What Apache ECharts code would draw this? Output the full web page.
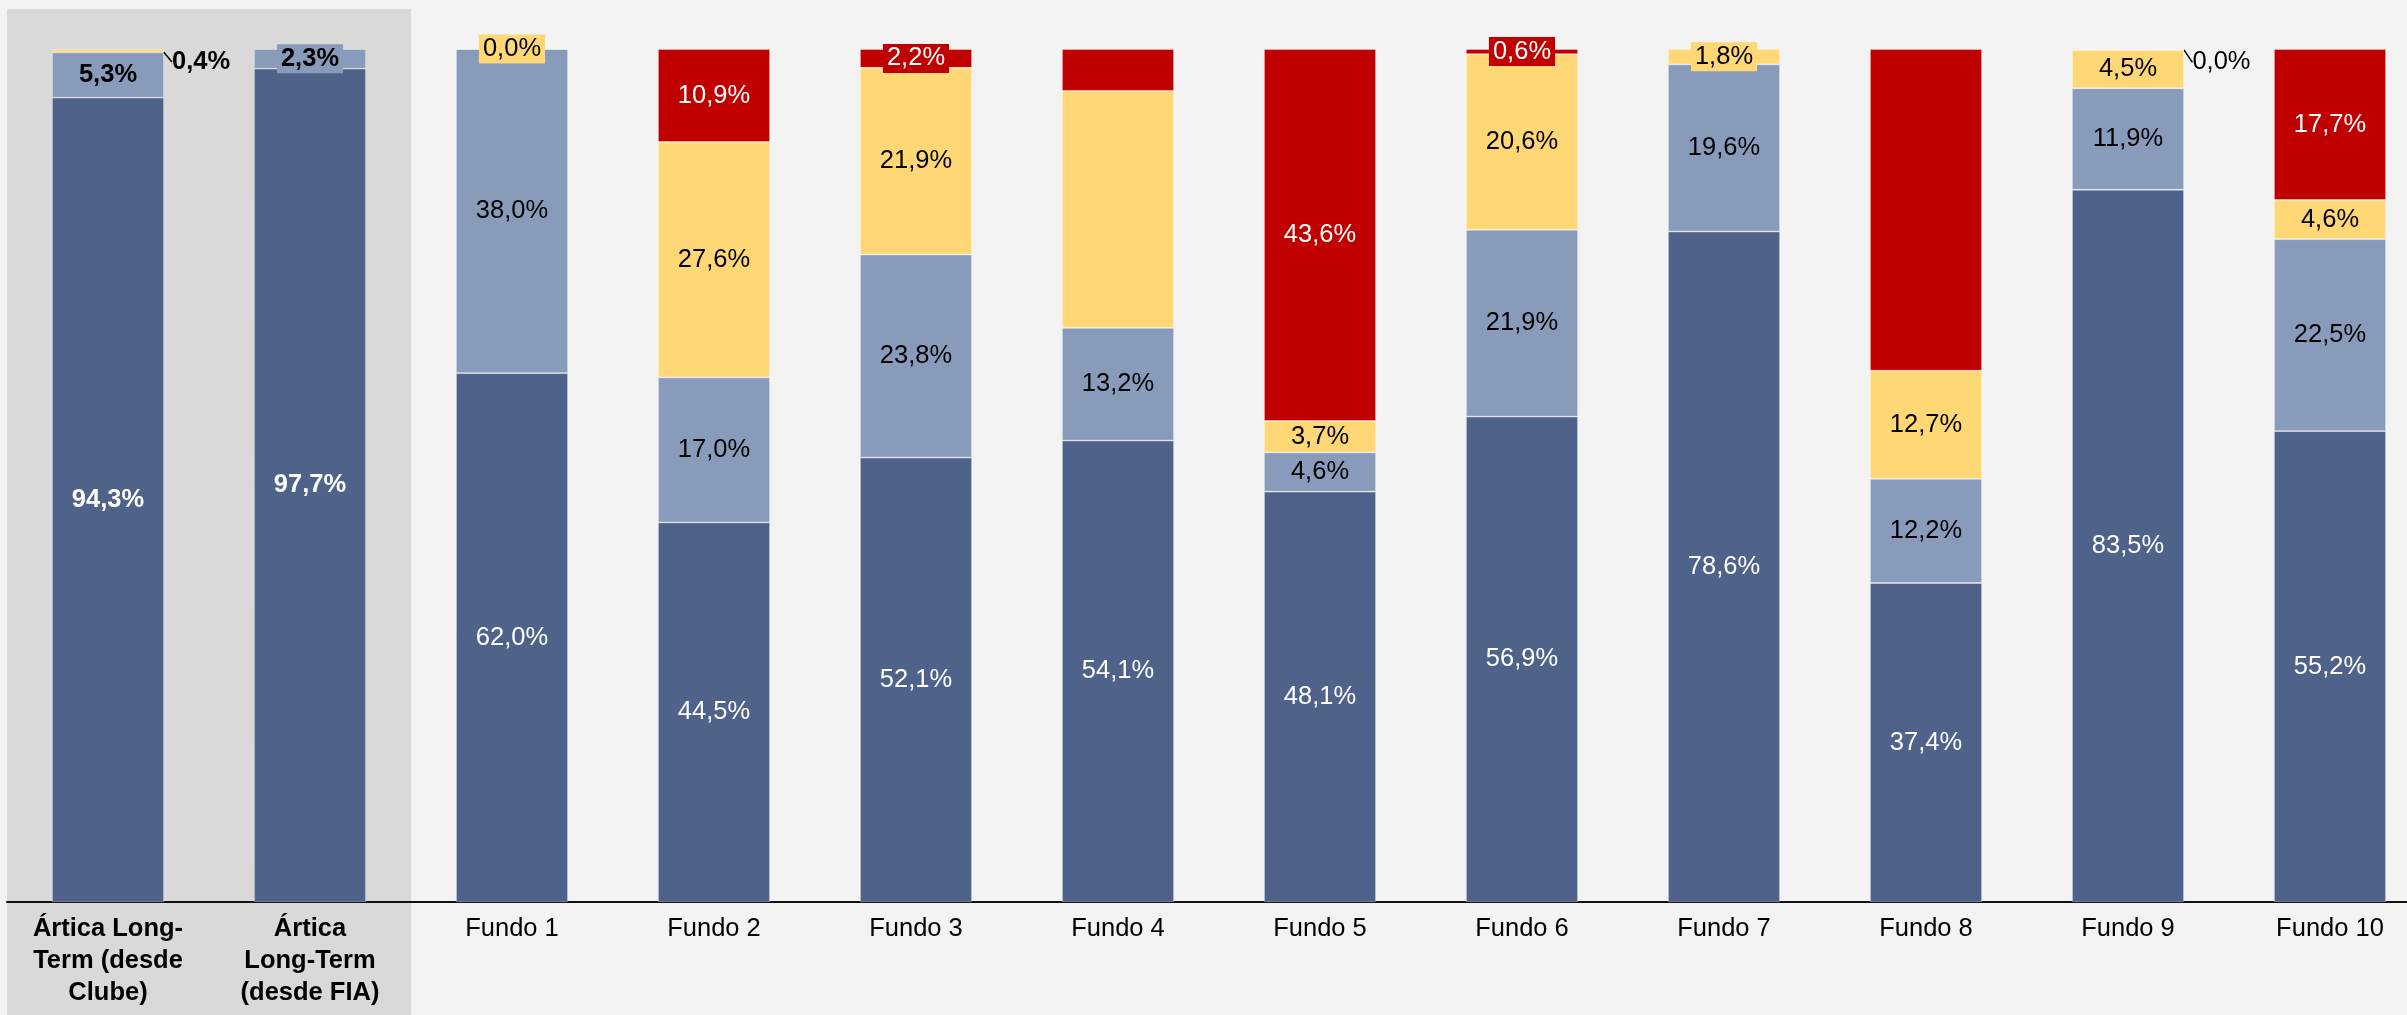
<!DOCTYPE html>
<html>
<head>
<meta charset="utf-8">
<script src="https://cdn.jsdelivr.net/npm/echarts@6/dist/echarts.min.js"></script>
<style>
  html, body { margin: 0; padding: 0; background: #f3f3f3; }
  #grafico { width: 2407px; height: 1015px; }
</style>
</head>
<body>
<div id="grafico"></div>
<script>
// dados (% por faixa, de baixo para cima)
var categorias = ['Ártica Long-\nTerm (desde\nClube)', 'Ártica\nLong-Term\n(desde FIA)',
    'Fundo 1', 'Fundo 2', 'Fundo 3', 'Fundo 4', 'Fundo 5', 'Fundo 6', 'Fundo 7', 'Fundo 8', 'Fundo 9', 'Fundo 10'];
var faixaAzulEscuro = [94.3, 97.7, 62.0, 44.5, 52.1, 54.1, 48.1, 56.9, 78.6, 37.4, 83.5, 55.2];
var faixaAzulClaro  = [5.3, 2.3, 38.0, 17.0, 23.8, 13.2, 4.6, 21.9, 19.6, 12.2, 11.9, 22.5];
var faixaAmarela    = [0.4, null, 0.0, 27.6, 21.9, 27.8, 3.7, 20.6, 1.8, 12.7, 4.5, 4.6];
var faixaVermelha   = [null, null, null, 10.9, 2.2, 4.9, 43.6, 0.6, null, 37.7, 0.0, 17.7];

var fonte = "'Liberation Sans', Arial, sans-serif";

// rotulos especiais: 'serie-indice'
var semRotulo = ['2-5', '3-5', '3-9'];
var comFundo  = ['1-1', '2-2', '2-8', '3-4', '3-7'];
var foraDaBarra = ['2-0', '3-10'];

function fmt(v) {
    return v.toFixed(1).replace('.', ',') + '%';
}

function montaDados(valores, s, cor, corTexto) {
    return valores.map(function (v, i) {
        if (v === null) return null;
        var chave = s + '-' + i;
        var item = { value: v, label: { color: corTexto, fontWeight: i < 2 ? 'bold' : 'normal' } };
        if (semRotulo.indexOf(chave) >= 0) item.label.show = false;
        if (comFundo.indexOf(chave) >= 0) {
            item.label.backgroundColor = cor;
            item.label.padding = [2, 4, 1, 4];
        }
        if (foraDaBarra.indexOf(chave) >= 0) {
            item.label.position = 'right';
            item.label.color = '#000';
            item.label.distance = 6;
            item.labelLine = { show: true, lineStyle: { color: '#000', width: 1.5 } };
        }
        return item;
    });
}

function serie(nome, valores, s, cor, corTexto) {
    return {
        name: nome,
        type: 'bar',
        stack: 'total',
        barWidth: 112,
        data: montaDados(valores, s, cor, corTexto),
        itemStyle: { color: cor, borderColor: 'rgba(255,255,255,0.45)', borderWidth: 0.8 },
        label: {
            show: true,
            position: 'inside',
            fontFamily: fonte,
            fontSize: 25.5,
            formatter: function (p) { return fmt(p.value); }
        },
        labelLayout: function (p) {
            if (foraDaBarra.indexOf(p.seriesIndex + '-' + p.dataIndex) >= 0) {
                return { dx: 2, dy: 13 - p.rect.height / 2 };
            }
            return {};
        }
    };
}

var grafico = echarts.init(document.getElementById('grafico'));

var option = {
    backgroundColor: '#f3f3f3',
    animation: false,
    grid: { left: 7, top: 49, right: -24, bottom: 113, containLabel: false, outerBoundsMode: 'none' },
    xAxis: {
        type: 'category',
        data: categorias.map(function (c, i) {
            return i < 2 ? { value: c, textStyle: { fontWeight: 'bold' } } : c;
        }),
        axisLine: { lineStyle: { color: '#111', width: 2 } },
        axisTick: { show: false },
        axisLabel: {
            interval: 0,
            margin: 11,
            color: '#000',
            fontFamily: fonte,
            fontSize: 25.5,
            lineHeight: 32
        }
    },
    yAxis: { type: 'value', min: 0, max: 100, show: false, splitLine: { show: false } },
    series: [
        serie('Faixa 1', faixaAzulEscuro, 0, '#4f6289', '#fff'),
        serie('Faixa 2', faixaAzulClaro, 1, '#899bba', '#000'),
        serie('Faixa 3', faixaAmarela, 2, '#ffd775', '#000'),
        serie('Faixa 4', faixaVermelha, 3, '#c00000', '#fff')
    ]
};

grafico.setOption(option);

// fundo cinza atras das duas primeiras categorias
var x0 = grafico.convertToPixel({ xAxisIndex: 0 }, 0);
var x1 = grafico.convertToPixel({ xAxisIndex: 0 }, 1);
var banda = x1 - x0;
grafico.setOption({
    graphic: [{
        type: 'rect',
        z: -10,
        silent: true,
        shape: { x: x0 - banda / 2, y: 9, width: banda * 2, height: 1015 - 9 },
        style: { fill: '#d9d9d9' }
    }]
});
</script>
</body>
</html>
